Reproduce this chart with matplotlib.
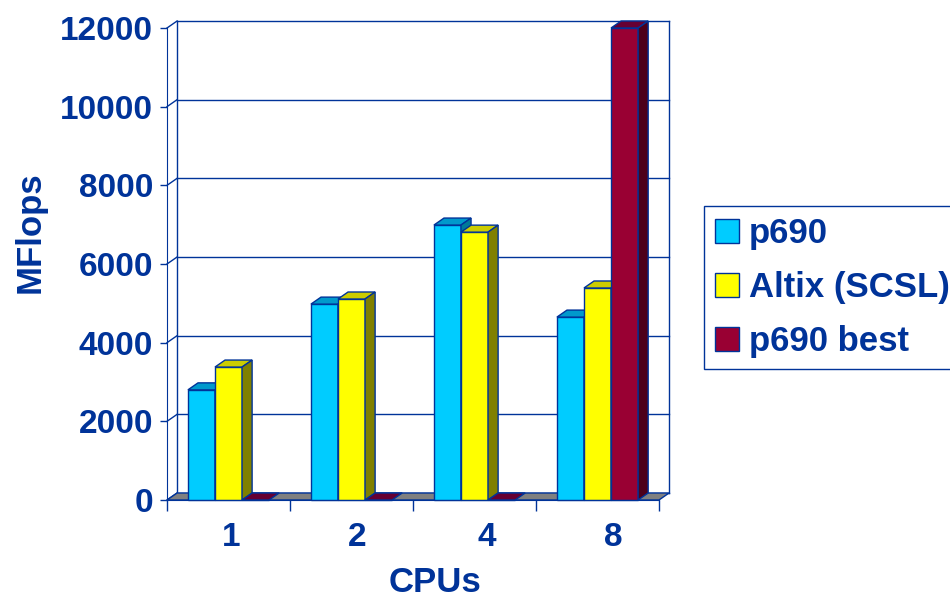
import matplotlib
matplotlib.use('Agg')
import matplotlib.pyplot as plt
from matplotlib.patches import Polygon, Patch

plt.rcParams['font.family'] = 'Liberation Sans'
plt.rcParams['font.weight'] = 'bold'

cpus = ['1', '2', '4', '8']
p690 = [2800, 4980, 6990, 4650]
altix = [3380, 5110, 6810, 5390]
p690_best = [0, 0, 0, 12000]

series = [
    ('p690', p690, '#00CCFF', '#0099CC', '#007A99'),
    ('Altix (SCSL)', altix, '#FFFF00', '#CCCC00', '#808000'),
    ('p690 best', p690_best, '#990033', '#660033', '#4D001A'),
]

navy = '#003399'
ymax = 12000
# depth offset of the pseudo-3d box (category units / MFlops)
dx = 0.082
dy = 178
bar_w = 0.22

fig = plt.figure(figsize=(9.5, 5.97), dpi=100)
ax = fig.add_axes([167 / 950, 97 / 597, 492 / 950, 472 / 597])
ax.set_xlim(0, len(cpus))
ax.set_ylim(0, ymax)

# back wall, left wall and gridlines
ticks = list(range(0, ymax + 1, 2000))
for v in ticks:
    ax.plot([dx, len(cpus) + dx], [v + dy, v + dy], color=navy, lw=1, clip_on=False, zorder=1)
    ax.plot([0, dx], [v, v + dy], color=navy, lw=1, clip_on=False, zorder=1)
for xe in (dx, len(cpus) + dx):
    ax.plot([xe, xe], [dy, ymax + dy], color=navy, lw=1, clip_on=False, zorder=1)

# floor
ax.add_patch(Polygon([(0, 0), (len(cpus), 0), (len(cpus) + dx, dy), (dx, dy)],
                     closed=True, facecolor='#808080', edgecolor=navy, lw=1,
                     clip_on=False, zorder=1.5))

for k, (name, vals, front, top, side) in enumerate(series):
    xs = [i + 0.5 + (k - 1) * bar_w for i in range(len(cpus))]
    bars = ax.bar(xs, vals, width=bar_w, color=front, edgecolor=navy, lw=1)
    for b in bars:
        z = 2 + k * 0.3
        b.set_zorder(z)
        b.set_clip_on(False)
        x0, w, h = b.get_x(), b.get_width(), b.get_height()
        ax.add_patch(Polygon([(x0, h), (x0 + w, h), (x0 + w + dx, h + dy), (x0 + dx, h + dy)],
                             closed=True, facecolor=top, edgecolor=navy, lw=1,
                             clip_on=False, zorder=z + 0.1))
        if h > 0:
            ax.add_patch(Polygon([(x0 + w, 0), (x0 + w + dx, dy), (x0 + w + dx, h + dy), (x0 + w, h)],
                                 closed=True, facecolor=side, edgecolor=navy, lw=1,
                                 clip_on=False, zorder=z + 0.1))

for s in ('top', 'right'):
    ax.spines[s].set_visible(False)
for s in ('left', 'bottom'):
    ax.spines[s].set_color(navy)
    ax.spines[s].set_zorder(5)

ax.set_yticks(ticks)
ax.set_yticklabels([str(t) for t in ticks])
ax.tick_params(axis='y', colors=navy, labelsize=24, length=5, width=1, pad=5)
ax.set_xticks(range(len(cpus) + 1))
ax.set_xticklabels([])
ax.tick_params(axis='x', colors=navy, length=8, width=1)
ax.set_xticks([0.52, 1.55, 2.6, 3.63], minor=True)
ax.set_xticklabels(cpus, minor=True)
ax.tick_params(axis='x', which='minor', length=0, labelsize=24, labelcolor=navy, pad=16)
for lbl in ax.get_yticklabels() + ax.get_xticklabels(minor=True):
    lbl.set_fontweight('bold')

fig.text(30 / 950, 1 - 232 / 597, 'MFlops', rotation=90, color=navy, fontsize=25,
         fontweight='bold', ha='center', va='center')
fig.text(435 / 950, 1 - 582 / 597, 'CPUs', color=navy, fontsize=25,
         fontweight='bold', ha='center', va='center')

handles = [Patch(facecolor=f, edgecolor=navy, lw=1) for _, _, f, _, _ in series]
leg = fig.legend(handles, [s[0] for s in series], loc='upper left',
                 bbox_to_anchor=(704 / 950, 1 - 206 / 597), frameon=True, fancybox=False,
                 framealpha=1, edgecolor=navy, prop={'size': 25, 'weight': 'bold'},
                 handlelength=0.68, handleheight=0.68, handletextpad=0.3,
                 labelspacing=0.6, borderpad=0.32, borderaxespad=0)
leg.get_frame().set_linewidth(1)
for t in leg.get_texts():
    t.set_color(navy)

fig.savefig('out.png', dpi=100)
